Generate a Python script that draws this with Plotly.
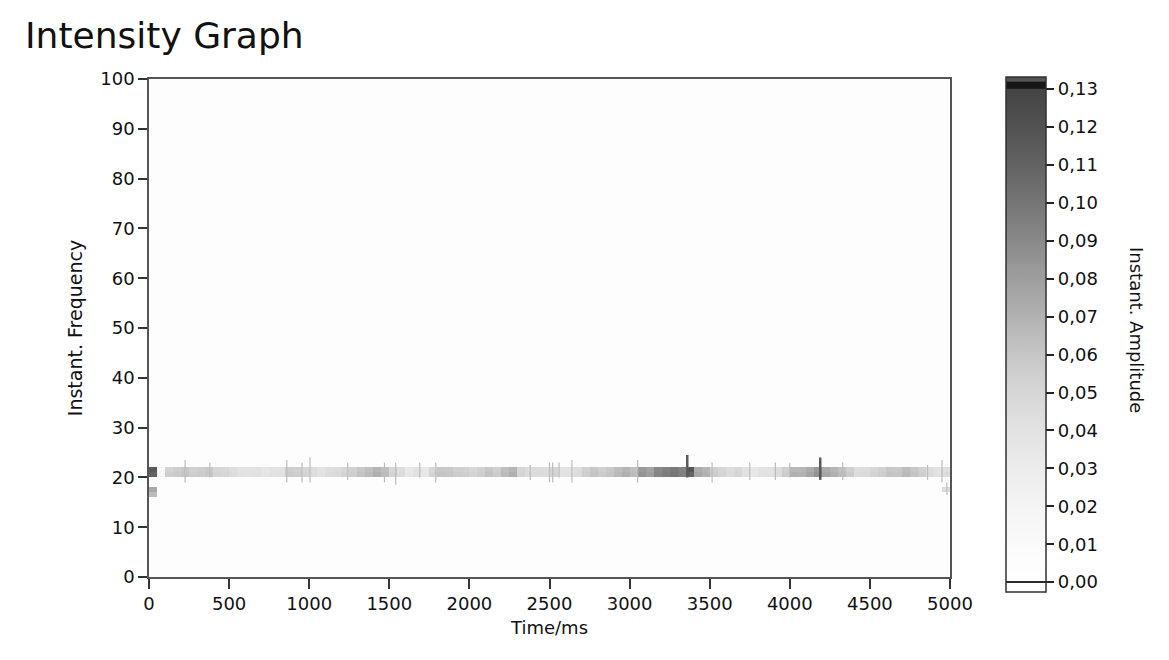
import numpy as np
import plotly.graph_objects as go

# ---------------- data ----------------
n_time = 100          # 50 ms columns, 0..5000 ms
n_freq = 100          # 1-Hz rows, 0..100
time_step = 50

# intensity along the main band (row 20..21 Hz), one value per 50 ms column
band_lower = [
    0.110, 0.015, 0.055, 0.057, 0.061, 0.055, 0.056, 0.060, 0.051, 0.050,
    0.045, 0.041, 0.040, 0.041, 0.036, 0.040, 0.041, 0.057, 0.055, 0.051,
    0.045, 0.040, 0.045, 0.046, 0.051, 0.055, 0.061, 0.065, 0.071, 0.065,
    0.051, 0.045, 0.035, 0.041, 0.035, 0.051, 0.061, 0.060, 0.056, 0.055,
    0.051, 0.055, 0.061, 0.056, 0.066, 0.071, 0.051, 0.045, 0.046, 0.045,
    0.051, 0.040, 0.041, 0.045, 0.055, 0.061, 0.056, 0.060, 0.066, 0.071,
    0.065, 0.085, 0.080, 0.092, 0.096, 0.100, 0.095, 0.110, 0.076, 0.070,
    0.056, 0.051, 0.045, 0.050, 0.041, 0.035, 0.040, 0.041, 0.045, 0.056,
    0.071, 0.070, 0.076, 0.085, 0.076, 0.071, 0.065, 0.056, 0.045, 0.046,
    0.051, 0.055, 0.061, 0.060, 0.066, 0.061, 0.055, 0.045, 0.040, 0.045,
]
band_upper = [
    0.115, 0.012, 0.051, 0.055, 0.059, 0.053, 0.055, 0.058, 0.049, 0.048,
    0.043, 0.039, 0.039, 0.040, 0.035, 0.039, 0.040, 0.055, 0.053, 0.049,
    0.044, 0.039, 0.043, 0.045, 0.049, 0.053, 0.059, 0.063, 0.068, 0.063,
    0.049, 0.043, 0.034, 0.039, 0.034, 0.049, 0.059, 0.058, 0.054, 0.053,
    0.049, 0.053, 0.059, 0.054, 0.064, 0.068, 0.049, 0.044, 0.045, 0.044,
    0.049, 0.039, 0.040, 0.044, 0.053, 0.059, 0.054, 0.058, 0.064, 0.068,
    0.063, 0.082, 0.078, 0.090, 0.094, 0.098, 0.093, 0.118, 0.073, 0.068,
    0.054, 0.049, 0.044, 0.048, 0.040, 0.034, 0.039, 0.040, 0.044, 0.054,
    0.068, 0.068, 0.073, 0.082, 0.073, 0.068, 0.063, 0.054, 0.044, 0.045,
    0.049, 0.053, 0.059, 0.058, 0.064, 0.059, 0.053, 0.044, 0.039, 0.043,
]
band_rows = [20, 21]

# isolated cells away from the band: (time column, frequency row, intensity)
extra_cols = [0, 0, 99]
extra_rows = [17, 16, 17]
extra_vals = [0.075, 0.065, 0.045]

# thin vertical streaks (ms, low Hz, high Hz)
streak_times = [225, 380, 860, 955, 1005, 1240, 1470, 1540, 1690, 1790,
                2380, 2500, 2520, 2560, 2640, 3050, 3515, 3750, 3910, 4000,
                4330, 4860, 4950, 4980]
streak_low = [19.0, 20.0, 19.0, 19.0, 19.0, 19.5, 19.0, 18.5, 20.0, 19.0,
              19.5, 19.0, 19.0, 20.0, 19.0, 19.0, 19.0, 19.5, 19.5, 20.0,
              19.5, 19.5, 19.0, 16.5]
streak_high = [23.5, 23.0, 23.5, 23.0, 24.0, 23.0, 23.0, 23.0, 23.0, 23.0,
               22.5, 23.0, 23.0, 23.0, 23.5, 23.5, 23.0, 23.0, 23.0, 23.0,
               23.0, 22.5, 23.5, 19.0]
dark_streak_times = [3360, 4190]
dark_streak_low = [20.0, 19.5]
dark_streak_high = [24.5, 24.0]

x_ticks = [0, 500, 1000, 1500, 2000, 2500, 3000, 3500, 4000, 4500, 5000]
y_ticks = [0, 10, 20, 30, 40, 50, 60, 70, 80, 90, 100]
cb_tickvals = [0.00, 0.01, 0.02, 0.03, 0.04, 0.05, 0.06, 0.07, 0.08, 0.09,
               0.10, 0.11, 0.12, 0.13]
cb_ticktext = ["0,00", "0,01", "0,02", "0,03", "0,04", "0,05", "0,06",
               "0,07", "0,08", "0,09", "0,10", "0,11", "0,12", "0,13"]

# ---------------- build grid ----------------
z = np.full((n_freq, n_time), np.nan)
z[band_rows[0], :] = band_lower
z[band_rows[1], :] = band_upper
for c, r, v in zip(extra_cols, extra_rows, extra_vals):
    z[r, c] = v

x_centers = np.arange(n_time) * time_step + time_step / 2
y_centers = np.arange(n_freq) + 0.5

cmin, cmax = -0.0026, 0.1332
def pos(v):
    return (v - cmin) / (cmax - cmin)

grey_stops = [
    (0.00, "#ffffff"), (0.01, "#fafafa"), (0.02, "#f4f4f4"), (0.03, "#ececec"),
    (0.04, "#e2e2e2"), (0.05, "#d6d6d6"), (0.06, "#c6c6c6"), (0.07, "#b2b2b2"),
    (0.08, "#9e9e9e"), (0.09, "#898989"), (0.10, "#767676"), (0.11, "#636363"),
    (0.12, "#525252"), (0.13, "#444444"),
]
colorscale = [[0.0, "#ffffff"], [0.0165, "#ffffff"], [0.0170, "#2a2a2a"],
              [0.0215, "#2a2a2a"], [0.0220, "#ffffff"]]
for v, c in grey_stops[1:]:
    colorscale.append([pos(v), c])
colorscale += [[0.978, "#161616"], [0.990, "#161616"], [0.992, "#555555"],
               [1.0, "#555555"]]

FONT = "DejaVu Sans"

# the page adds an 8 px body margin, so the figure is drawn 8 px smaller
W, H = 1161, 652
PL, PR, PT, PB = 141, 942, 71, 569   # plot area edges inside the figure

def px_x(px):   # figure pixel -> paper (plot-area) fraction
    return (px - PL) / (PR - PL)

def px_y(px):
    return (PB - px) / (PB - PT)

fig = go.Figure()
fig.add_trace(go.Heatmap(
    x=x_centers, y=y_centers, z=z,
    zmin=cmin, zmax=cmax, colorscale=colorscale,
    hoverongaps=False,
    colorbar=dict(
        x=px_x(998), xanchor="left",
        y=px_y((69 + 584) / 2), yanchor="middle",
        len=515, lenmode="pixels", thickness=40, thicknessmode="pixels",
        ypad=0, xpad=0,
        outlinewidth=1.5, outlinecolor="#303030",
        tickvals=cb_tickvals, ticktext=cb_ticktext,
        ticks="outside", ticklen=8, tickwidth=1.5, tickcolor="#222222",
        tickfont=dict(family=FONT, size=18, color="#111111"),
    ),
))


def segs(times, lows, highs):
    xs, ys = [], []
    for t, lo, hi in zip(times, lows, highs):
        xs += [t, t, None]
        ys += [lo, hi, None]
    return xs, ys

sx, sy = segs(streak_times, streak_low, streak_high)
fig.add_trace(go.Scatter(x=sx, y=sy, mode="lines",
                         line=dict(color="#bcbcbc", width=1.2),
                         hoverinfo="skip", showlegend=False))
dx, dy = segs(dark_streak_times, dark_streak_low, dark_streak_high)
fig.add_trace(go.Scatter(x=dx, y=dy, mode="lines",
                         line=dict(color="#5a5a5a", width=2.5),
                         hoverinfo="skip", showlegend=False))

fig.update_layout(
    width=W, height=H,
    margin=dict(l=PL, r=W - PR, t=PT, b=H - PB),
    paper_bgcolor="#ffffff", plot_bgcolor="#fdfdfd",
    font=dict(family=FONT, size=18, color="#111111"),
    showlegend=False,
    title=dict(text="Intensity Graph", x=17 / W, xanchor="left",
               y=1 - 27 / H, yanchor="middle",
               font=dict(family=FONT, size=36, color="#111111")),
    xaxis=dict(range=[0, 5000], tickvals=x_ticks, ticks="outside",
               ticklen=10, tickwidth=1.5, tickcolor="#333333",
               showgrid=False, zeroline=False,
               showline=True, linecolor="#555555", linewidth=1.5, mirror=True,
               tickfont=dict(family=FONT, size=18),
               title=dict(text="Time/ms", standoff=8,
                          font=dict(family=FONT, size=18))),
    yaxis=dict(range=[0, 100], tickvals=y_ticks, ticks="outside",
               ticklen=9, tickwidth=1.5, tickcolor="#333333",
               showgrid=False, zeroline=False,
               showline=True, linecolor="#555555", linewidth=1.5, mirror=True,
               tickfont=dict(family=FONT, size=18),
               title=dict(text="Instant. Frequency", standoff=13,
                          font=dict(family=FONT, size=19))),
    annotations=[dict(text="Instant. Amplitude", textangle=90,
                      xref="paper", yref="paper", x=px_x(1129), y=px_y(322),
                      xanchor="center", yanchor="middle", showarrow=False,
                      font=dict(family=FONT, size=18, color="#111111"))],
)

fig.write_html("out.html")
